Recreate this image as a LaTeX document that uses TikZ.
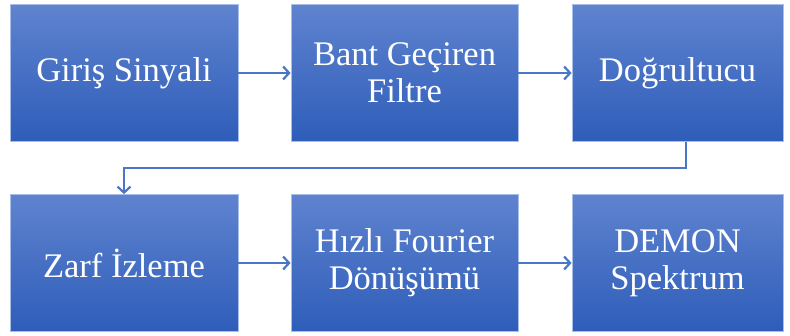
\documentclass[tikz,border=0pt]{standalone}
\usepackage{fontspec}
\setmainfont{Liberation Serif}
\usetikzlibrary{arrows.meta}
\definecolor{boxtop}{HTML}{5F83CF}
\definecolor{boxbot}{HTML}{2E5DB9}
\definecolor{boxedge}{HTML}{A9BEE6}
\definecolor{linec}{HTML}{4A76C8}
\tikzset{
  stepbox/.style={rectangle, minimum width=228pt, minimum height=137pt, inner sep=0pt,
    top color=boxtop, bottom color=boxbot, draw=boxedge, line width=0.8pt,
    text=white, align=center, font=\fontsize{34.5}{37}\selectfont},
  conn/.style={draw=linec, line width=2.2pt, -{Straight Barb[length=6pt,width=13pt,line width=2.2pt]}}
}
\begin{document}
\begin{tikzpicture}[x=1pt,y=-1pt]
\useasboundingbox (0,0) rectangle (790,336);
\node[stepbox, minimum width=228pt] (a) at (124,73) {Giriş Sinyali};
\node[stepbox, minimum width=227pt] (b) at (404.5,73) {Bant Geçiren\\Filtre};
\node[stepbox, minimum width=211pt] (c) at (677.5,73) {Doğrultucu};
\node[stepbox, minimum width=228pt] (d) at (124,263) {Zarf İzleme};
\node[stepbox, minimum width=227pt] (e) at (404.5,263) {Hızlı Fourier\\Dönüşümü};
\node[stepbox, minimum width=211pt] (f) at (677.5,263) {DEMON\\Spektrum};
\coordinate (k1) at (686,168);
\coordinate (k2) at (124,168);
\draw[conn] (a) -- (b);
\draw[conn] (b) -- (c);
\draw[conn] (d) -- (e);
\draw[conn] (e) -- (f);
\draw[conn] (c.south -| k1) -- (k1) -- (k2) -- (d.north);
\end{tikzpicture}
\end{document}
